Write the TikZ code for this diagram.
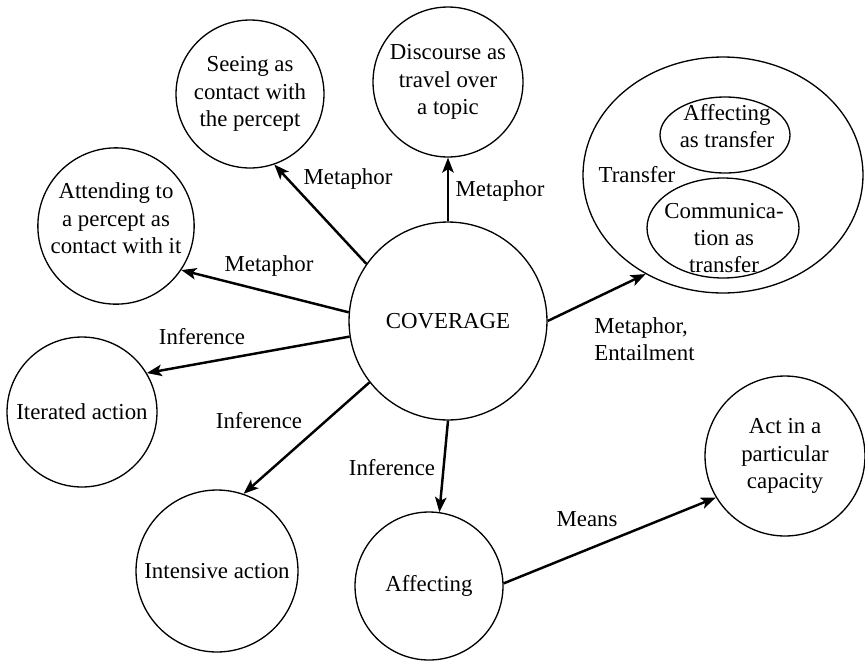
\documentclass[tikz,border=0pt]{standalone}
\usepackage{fontspec}
\setmainfont{Liberation Serif}
\usetikzlibrary{arrows.meta,shapes.geometric}

\tikzstyle{bubble}=[circle, draw, line width=0.75pt, align=center, inner sep=0pt, font=\fontsize{13}{15.5}\selectfont]
\tikzstyle{oval}=[ellipse, draw, line width=0.75pt, inner sep=0pt]
\tikzstyle{arrline}=[line width=1.4pt, -{Stealth[length=8.5pt, width=6.5pt, inset=2pt]}]
\tikzstyle{lbl}=[font=\fontsize{13}{15.5}\selectfont, inner sep=0pt]

\begin{document}
\begin{tikzpicture}[x=0.02cm, y=-0.02cm]
  \useasboundingbox (0,0) rectangle (865,660);

  % centre and its neighbours
  \node[bubble, minimum size=3.96cm] (cov)    at (448,321) {COVERAGE};
  \node[bubble, minimum size=2.96cm] (seeing) at (250,94)  {Seeing as\\contact with\\the percept};
  \node[bubble, minimum size=3cm]    (disc)   at (448,82)  {Discourse as\\travel over\\a topic};
  \node[bubble, minimum size=3.08cm] (attend) at (116,226) {Attending to\\a percept as\\contact with it\\[-6.5pt]};
  \node[bubble, minimum size=3cm]    (iter)   at (82,412)  {Iterated action};
  \node[bubble, minimum size=3.24cm] (intens) at (217,571) {Intensive action};
  \node[bubble, minimum size=2.96cm] (affect) at (429,586) {Affecting};
  \node[bubble, minimum size=3.2cm]  (act)    at (785,456) {Act in a\\particular\\capacity};

  % transfer group
  \node[oval, minimum width=5.6cm, minimum height=4.72cm]  (transfer) at (723,175) {};
  \node[oval, minimum width=2.6cm, minimum height=1.52cm]  (afftr)    at (725,135) {};
  \node[oval, minimum width=3.04cm, minimum height=2cm]    (comm)     at (723,228) {};
  \node[lbl, align=center] (afftrtext) at (727,126) {Affecting\\as transfer};
  \node[lbl, align=center] (commtext)  at (724,238) {Communica-\\tion as\\transfer};
  \node[lbl] (tr) at (637,175) {Transfer};

  \draw[arrline] (cov.145) -- (seeing.-71);
  \draw[arrline] (cov.175) -- (attend.-34);
  \draw[arrline] (cov.90) -- (disc.-90);
  \draw[arrline] (cov.-171) -- (iter.31);
  \draw[arrline] (cov.218) -- (intens.71);
  \draw[arrline] (cov.-90) -- (affect.82);
  \draw[arrline] (cov.0) -- (transfer.232.6);
  \draw[arrline] (affect.2) -- (act.211);

  \node[lbl] (m1) at (348,179) {Metaphor};
  \node[lbl] (m2) at (269,266) {Metaphor};
  \node[lbl] (m3) at (500,191) {Metaphor};
  \node[lbl] (i1) at (202,337) {Inference};
  \node[lbl] (i2) at (259,421) {Inference};
  \node[lbl] (i3) at (392,468) {Inference};
  \node[lbl, align=left, anchor=west] (me) at (594,339) {Metaphor,\\Entailment};
  \node[lbl] (means) at (587,519) {Means};
\end{tikzpicture}
\end{document}
